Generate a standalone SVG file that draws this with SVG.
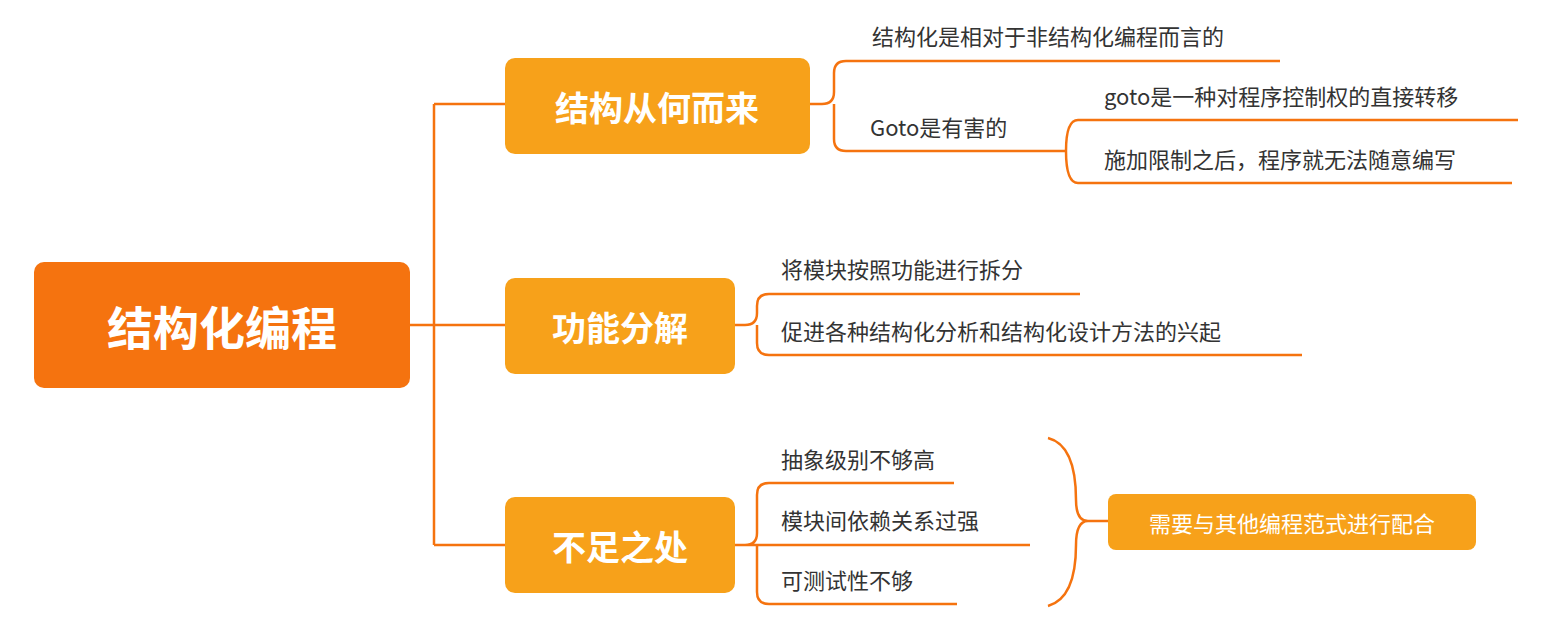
<svg xmlns="http://www.w3.org/2000/svg" width="1568" height="630" viewBox="0 0 1568 630">
<style>
.ln{fill:none;stroke:#F5730F;stroke-width:2.5}
.t{font-family:"Noto Sans CJK SC","Liberation Sans",sans-serif;font-size:22px;fill:#333}
.w{font-family:"Noto Sans CJK SC","Liberation Sans",sans-serif;fill:#fff;text-anchor:middle;dominant-baseline:central}
.c{fill:#F7A11A}
</style>
<rect width="1568" height="630" fill="#fff"/>
<g id="connectors">
<path class="ln" d="M410,325H434M434,104V545M434,104H505M434,325H505M434,545H505"/>
<path class="ln" d="M810,104H822Q834,104 834,92V73Q834,61 846,61H1280M834,104V139Q834,151 846,151H1066"/>
<path class="ln" d="M1066,151Q1066,120 1078,120H1518M1066,151Q1066,183 1078,183H1512"/>
<path class="ln" d="M735,325H745Q757,325 757,313V306Q757,294 769,294H1080M757,325V343Q757,355 769,355H1302"/>
<path class="ln" d="M735,545H745Q757,545 757,533V495Q757,483 769,483H954M745,545H1030M757,545V592Q757,604 769,604H957"/>
<path class="ln" d="M1048,438Q1076,445 1076,500Q1076,521 1088,521Q1076,521 1076,545Q1076,598 1048,606M1088,521H1108"/>
</g>
<g id="root"><rect x="34" y="262" width="376" height="126" rx="10" fill="#F5730F"/><text class="w" x="222" y="325" font-size="46" font-weight="bold">结构化编程</text></g>
<g id="n1"><rect class="c" x="505" y="58" width="305" height="96" rx="10"/><text class="w" x="657" y="106" font-size="34" font-weight="bold">结构从何而来</text></g>
<g id="n2"><rect class="c" x="505" y="278" width="230" height="96" rx="10"/><text class="w" x="620" y="326" font-size="34" font-weight="bold">功能分解</text></g>
<g id="n3"><rect class="c" x="505" y="497" width="230" height="96" rx="10"/><text class="w" x="620" y="545" font-size="34" font-weight="bold">不足之处</text></g>
<g id="sum"><rect class="c" x="1108" y="494" width="368" height="56" rx="8"/><text class="w" x="1292" y="522" font-size="22">需要与其他编程范式进行配合</text></g>
<g id="leaves">
<text class="t" x="872" y="45">结构化是相对于非结构化编程而言的</text>
<text class="t" x="870" y="136">Goto是有害的</text>
<text class="t" x="1104" y="105">goto是一种对程序控制权的直接转移</text>
<text class="t" x="1104" y="168">施加限制之后，程序就无法随意编写</text>
<text class="t" x="781" y="278">将模块按照功能进行拆分</text>
<text class="t" x="781" y="340">促进各种结构化分析和结构化设计方法的兴起</text>
<text class="t" x="781" y="468">抽象级别不够高</text>
<text class="t" x="781" y="529">模块间依赖关系过强</text>
<text class="t" x="781" y="589">可测试性不够</text>
</g>
</svg>
